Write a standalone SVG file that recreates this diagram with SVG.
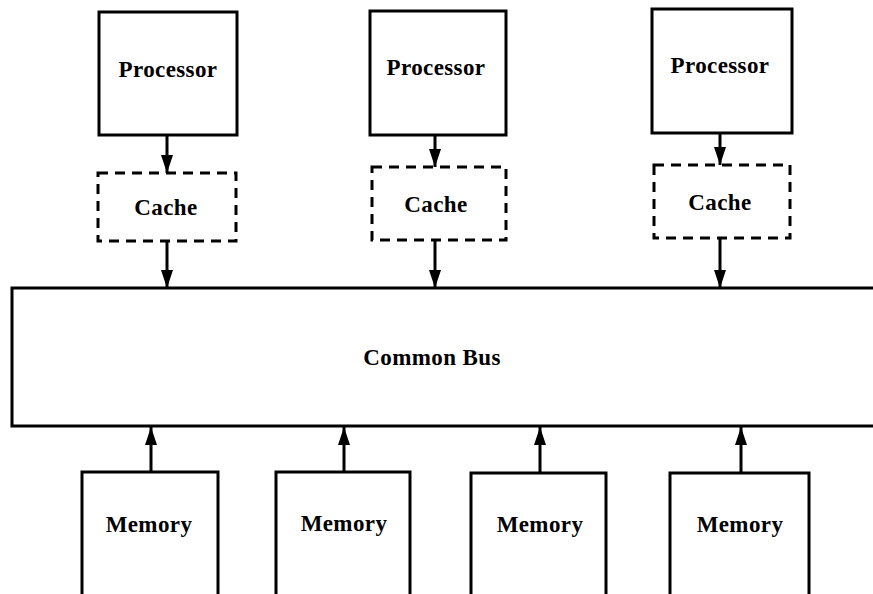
<svg xmlns="http://www.w3.org/2000/svg" width="873" height="594" viewBox="0 0 873 594">
<defs>
<marker id="ah" viewBox="0 0 18 12" refX="18" refY="6" markerWidth="18" markerHeight="12" markerUnits="userSpaceOnUse" orient="auto">
<path d="M0,0 L18,6 L0,12 Z" fill="#000"/>
</marker>
<style>
.box{fill:#fff;stroke:#000;stroke-width:3}
.dash{fill:#fff;stroke:#000;stroke-width:3;stroke-dasharray:10 7}
.t{font-family:"Liberation Serif",serif;font-weight:bold;font-size:23px;text-anchor:middle;letter-spacing:0.4px;fill:#000}
.c{stroke:#000;stroke-width:3;fill:none;marker-end:url(#ah)}
</style>
</defs>
<rect width="873" height="594" fill="#fff"/>
<g id="bus"><path d="M876,288 H12 V426 H876" class="box"/><text class="t" x="432" y="365">Common Bus</text></g>
<g id="proc1"><rect class="box" x="99" y="12" width="138" height="123"/><text class="t" x="168" y="77">Processor</text></g>
<g id="proc2"><rect class="box" x="370" y="11" width="136" height="124"/><text class="t" x="436" y="75">Processor</text></g>
<g id="proc3"><rect class="box" x="652" y="9" width="140" height="124"/><text class="t" x="720" y="73">Processor</text></g>
<g id="cache1"><rect class="dash" x="98" y="173" width="138" height="68"/><text class="t" x="166" y="215">Cache</text></g>
<g id="cache2"><rect class="dash" x="372" y="167" width="134" height="73"/><text class="t" x="436" y="212">Cache</text></g>
<g id="cache3"><rect class="dash" x="654" y="165" width="136" height="73"/><text class="t" x="720" y="210">Cache</text></g>
<g id="mem1"><rect class="box" x="82" y="472" width="136" height="130"/><text class="t" x="149" y="532">Memory</text></g>
<g id="mem2"><rect class="box" x="276" y="472" width="134" height="130"/><text class="t" x="344" y="531">Memory</text></g>
<g id="mem3"><rect class="box" x="471" y="473" width="135" height="130"/><text class="t" x="540" y="532">Memory</text></g>
<g id="mem4"><rect class="box" x="670" y="473" width="139" height="130"/><text class="t" x="740" y="532">Memory</text></g>
<g id="connectors">
<line class="c" x1="167" y1="136" x2="167" y2="173"/>
<line class="c" x1="435" y1="136" x2="435" y2="167"/>
<line class="c" x1="720" y1="134" x2="720" y2="165"/>
<line class="c" x1="167" y1="242" x2="167" y2="288"/>
<line class="c" x1="435" y1="241" x2="435" y2="288"/>
<line class="c" x1="720" y1="239" x2="720" y2="288"/>
<line class="c" x1="151" y1="471" x2="151" y2="427"/>
<line class="c" x1="344" y1="471" x2="344" y2="427"/>
<line class="c" x1="540" y1="472" x2="540" y2="427"/>
<line class="c" x1="741" y1="472" x2="741" y2="427"/>
</g>
</svg>
